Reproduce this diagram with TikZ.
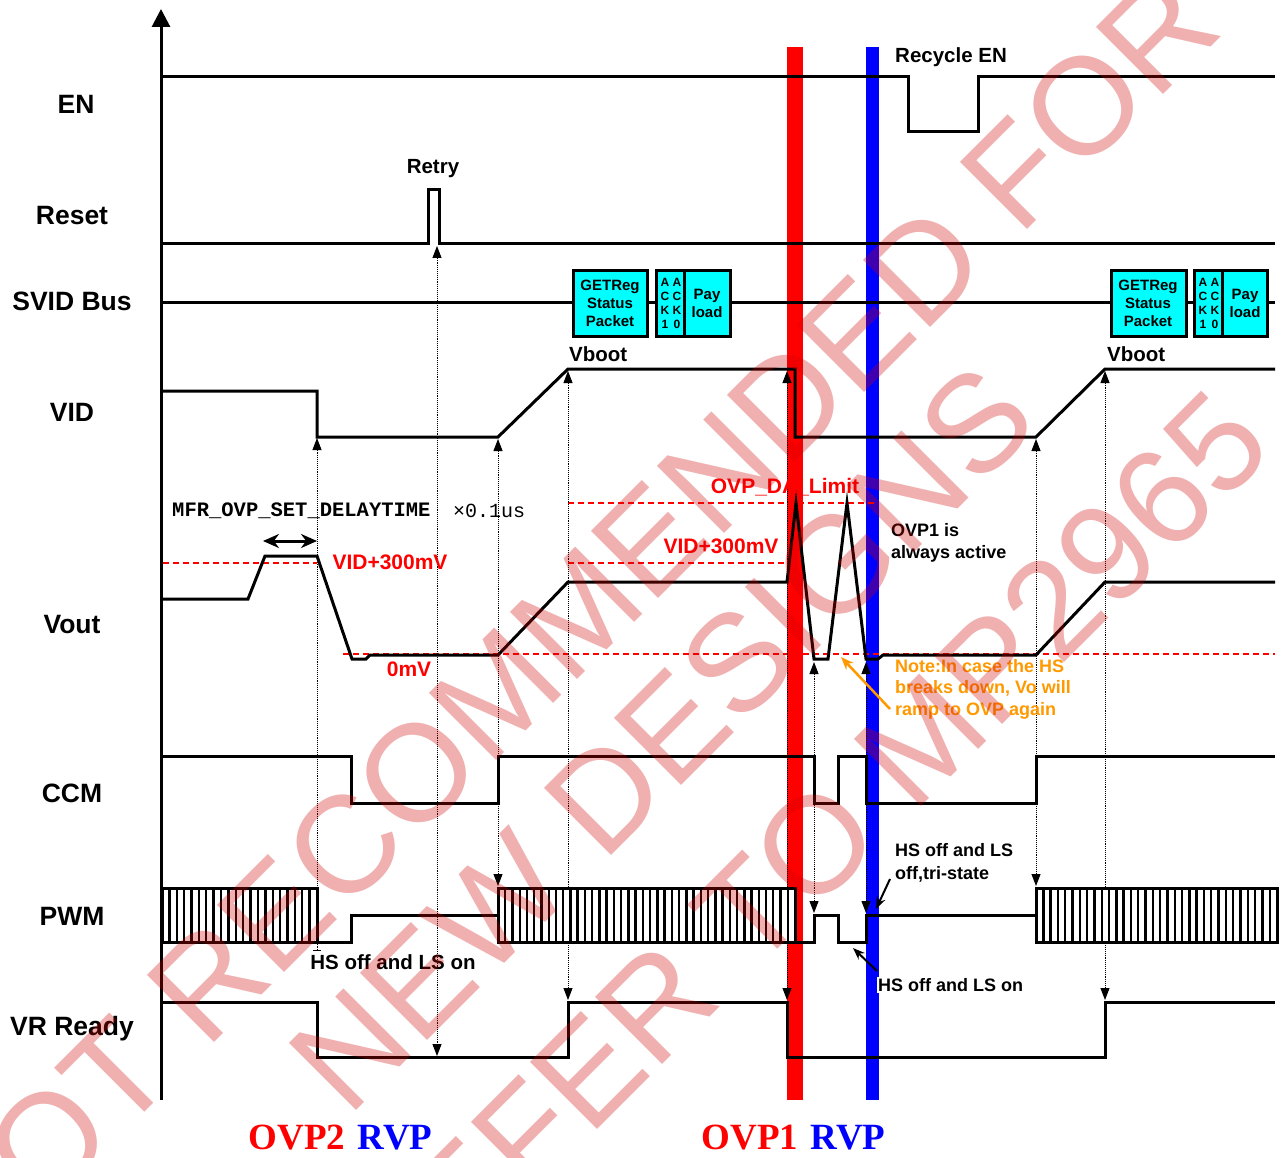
\documentclass[tikz,border=0pt]{standalone}
\usepackage{fontspec}
\setmainfont{Liberation Sans}
\newfontfamily\timesf{Liberation Serif}
\newfontfamily\courf{Liberation Mono}
\usetikzlibrary{arrows.meta}
\definecolor{ovpred}{RGB}{255,0,0}
\definecolor{rvpblue}{RGB}{0,0,255}
\definecolor{noteorange}{RGB}{255,153,0}
\definecolor{pktcyan}{RGB}{0,255,255}
\definecolor{wmred}{RGB}{207,0,0}
\newcommand\pwmhatch[3]{%
  \fill[white] (#1,888) rectangle (#2,942);
  \draw[line width=2.4pt] \foreach \i in {1,...,#3} { ({#1+\i*(#2-#1)/(#3+1)},888) -- ({#1+\i*(#2-#1)/(#3+1)},942) };
  \draw[line width=3pt] (#1,888) rectangle (#2,942);
}
\begin{document}
\begin{tikzpicture}[x=1pt,y=-1pt,
  sig/.style={line width=3pt, line join=miter},
  rowlbl/.style={font=\fontsize{26.5}{28}\selectfont\bfseries},
  txt/.style={font=\fontsize{20.5}{22}\selectfont\bfseries, inner sep=0pt},
  smalltxt/.style={font=\fontsize{18}{22.5}\selectfont\bfseries, inner sep=0pt, align=left},
  redtxt/.style={font=\fontsize{21}{22}\selectfont\bfseries, text=ovpred, inner sep=0pt},
  rdash/.style={draw=ovpred, line width=2.6pt, dash pattern=on 6pt off 4pt},
  pkt/.style={fill=pktcyan, draw=black, line width=3pt},
  pkttxt/.style={font=\fontsize{15}{18}\selectfont\bfseries, align=center, inner sep=0pt},
  acktxt/.style={font=\fontsize{12}{14}\selectfont\bfseries, align=center, inner sep=0pt},
  dar/.style={densely dotted, line width=0.9pt, arrows={Triangle[length=12pt,width=9pt]-Triangle[length=12pt,width=9pt]}},
  bigtxt/.style={font=\fontsize{37}{40}\selectfont\timesf\bfseries, inner sep=0pt},
  wm/.style={font=\fontsize{138}{138}\selectfont, text=wmred, text opacity=0.31, rotate=45, inner sep=0pt}
]
\useasboundingbox (0,0) rectangle (1284,1158);
\fill[white] (0,0) rectangle (1284,1158);

% OVP1 / RVP bars
\fill[ovpred] (787,47) rectangle (803,1100);
\fill[rvpblue] (866,47) rectangle (879,1100);

% axis
\draw[line width=3pt, -{Triangle[length=18pt,width=18pt]}] (161,1100) -- (161,9);

% row labels
\node[rowlbl] (lEN) at (76,104) {EN};
\node[rowlbl] (lReset) at (72,216) {Reset};
\node[rowlbl] (lSVID) at (72,301) {SVID Bus};
\node[rowlbl] (lVID) at (72,412) {VID};
\node[rowlbl] (lVout) at (72,625) {Vout};
\node[rowlbl] (lCCM) at (72,793) {CCM};
\node[rowlbl] (lPWM) at (72,916) {PWM};
\node[rowlbl] (lVRR) at (72,1029) {VR Ready};

% red dashed levels
\draw[rdash] (163,563) -- (317,563);
\draw[rdash] (568,563) -- (785,563);
\draw[rdash] (568,503) -- (878,503);
\draw[rdash] (343,654) -- (1275,654);

% dotted timing arrows
\draw[densely dotted, line width=0.9pt, arrows={Bar[width=8pt,line width=1pt]-Triangle[length=12pt,width=9pt]}] (317,951) -- (317,438);
\draw[dar] (437,246) -- (437,1056);
\draw[dar] (498,439) -- (498,886);
\draw[dar] (568,371) -- (568,1000);
\draw[dar] (787,371) -- (787,1000);
\draw[dar] (814,662) -- (814,913);
\draw[dar] (866,662) -- (866,913);
\draw[dar] (1036,439) -- (1036,886);
\draw[dar] (1105,371) -- (1105,1000);

% EN
\draw[sig] (161,77) -- (908,77) -- (908,132) -- (978,132) -- (978,77) -- (1275,77);
\node[txt, anchor=west] (recyc) at (895,57) {Recycle EN};
% Reset
\draw[sig] (161,244) -- (428,244) -- (428,190) -- (439,190) -- (439,244) -- (1275,244);
\node[txt] (retry) at (433,169) {Retry};
% SVID
\draw[sig] (161,302) -- (1275,302);
\draw[pkt] (573,270) rectangle (647,336);
\draw[pkt] (656,270) rectangle (730,336);
\draw[line width=3pt] (684,270) -- (684,336);
\node[pkttxt] (g1) at (610,303) {GETReg\\Status\\Packet};
\node[acktxt] (a1) at (665,303) {A\\C\\K\\1};
\node[acktxt] (a0) at (677,303) {A\\C\\K\\0};
\node[pkttxt] (p1) at (707,303) {Pay\\load};
\draw[pkt] (1111,270) rectangle (1186,336);
\draw[pkt] (1194,270) rectangle (1267,336);
\draw[line width=3pt] (1222,270) -- (1222,336);
\node[pkttxt] (g2) at (1148,303) {GETReg\\Status\\Packet};
\node[acktxt] (a2) at (1203,303) {A\\C\\K\\1};
\node[acktxt] (a3) at (1215,303) {A\\C\\K\\0};
\node[pkttxt] (p2) at (1245,303) {Pay\\load};
% VID
\draw[sig] (161,391) -- (317,391) -- (317,437) -- (498,437) -- (568,369) -- (795,369) -- (795,437) -- (1036,437) -- (1105,369) -- (1275,369);
\node[txt, anchor=west] (vb1) at (569,354) {Vboot};
\node[txt, anchor=west] (vb2) at (1107,354) {Vboot};
% Vout
\draw[sig] (161,599) -- (248,599) -- (265,556) -- (317,556) -- (352,659) -- (366,659) -- (370,655) -- (498,655) -- (568,582) -- (787,582) -- (796,503) -- (814,659) -- (828,659) -- (847,503) -- (866,659) -- (878,659) -- (883,655) -- (1036,655) -- (1105,582) -- (1275,582);
\node[font=\fontsize{20.5}{22}\selectfont\courf\bfseries, anchor=west, inner sep=0pt] (mfr) at (172,511) {MFR\_OVP\_SET\_DELAYTIME};
\node[font=\fontsize{20}{22}\selectfont\courf, anchor=west, inner sep=0pt] (mul) at (453,511) {×0.1us};
\draw[line width=3pt, {Stealth[length=16pt,width=14pt]}-{Stealth[length=16pt,width=14pt]}] (263,541) -- (317,541);
\node[redtxt] (v300a) at (390,562) {VID+300mV};
\node[redtxt] (v300b) at (721,546) {VID+300mV};
\node[redtxt] (ovpda) at (785,487) {OVP\_DA\_Limit};
\node[redtxt] (zmv) at (409,669) {0mV};
\node[smalltxt, anchor=west] (ovp1act) at (891,543) {OVP1 is\\always active};
\node[smalltxt, anchor=west, text=noteorange, font=\fontsize{18}{21.5}\selectfont\bfseries] (note) at (895,689) {Note:In case the HS\\breaks down, Vo will\\ramp to OVP again};
\coordinate (noteA) at (890,709);
\coordinate (noteB) at (841,657);
\draw[noteorange, line width=2.5pt, -{Stealth[length=13pt,width=10pt]}] (noteA) -- (noteB);
% CCM
\draw[sig] (161,756) -- (351,756) -- (351,803) -- (498,803) -- (498,756) -- (814,756) -- (814,803) -- (838,803) -- (838,756) -- (866,756) -- (866,803) -- (1036,803) -- (1036,756) -- (1275,756);
% PWM
\pwmhatch{162}{317}{20}
\pwmhatch{498}{795}{40}
\pwmhatch{1036}{1277}{32}
\draw[sig] (317,942) -- (351,942) -- (351,915) -- (498,915);
\draw[sig] (795,942) -- (814,942) -- (814,915) -- (838,915) -- (838,942) -- (866,942) -- (866,915) -- (1036,915);
\node[txt] (hs1) at (393,962) {HS off and LS on};
\node[smalltxt, anchor=west] (hs2) at (895,863) {HS off and LS\\off,tri-state};
\node[smalltxt, anchor=west, fill=white, inner sep=1pt] (hs3) at (877,985) {HS off and LS on};
\coordinate (t1a) at (890,879);
\coordinate (t1b) at (876,909);
\coordinate (t2a) at (877,971);
\coordinate (t2b) at (853,948);
\draw[line width=2pt, -{Stealth[length=12pt,width=9pt]}] (t1a) -- (t1b);
\draw[line width=2pt, -{Stealth[length=12pt,width=9pt]}] (t2a) -- (t2b);
% VR Ready
\draw[sig] (161,1002) -- (317,1002) -- (317,1057) -- (568,1057) -- (568,1002) -- (787,1002) -- (787,1057) -- (1105,1057) -- (1105,1002) -- (1275,1002);

% bottom labels
\node[bigtxt, text=ovpred] (o2) at (297,1138) {OVP2};
\node[bigtxt, text=rvpblue] (r2) at (395,1138) {RVP};
\node[bigtxt, text=ovpred] (o1) at (750,1138) {OVP1};
\node[bigtxt, text=rvpblue] (r1) at (848,1138) {RVP};

% watermark
\node[wm] (wm1) at (566,624) {NOT RECOMMENDED FOR};
\node[wm] (wm2) at (662,738) {NEW DESIGNS};
\node[wm] (wm3) at (802,858) {REFER TO MP2965};
\end{tikzpicture}
\end{document}
